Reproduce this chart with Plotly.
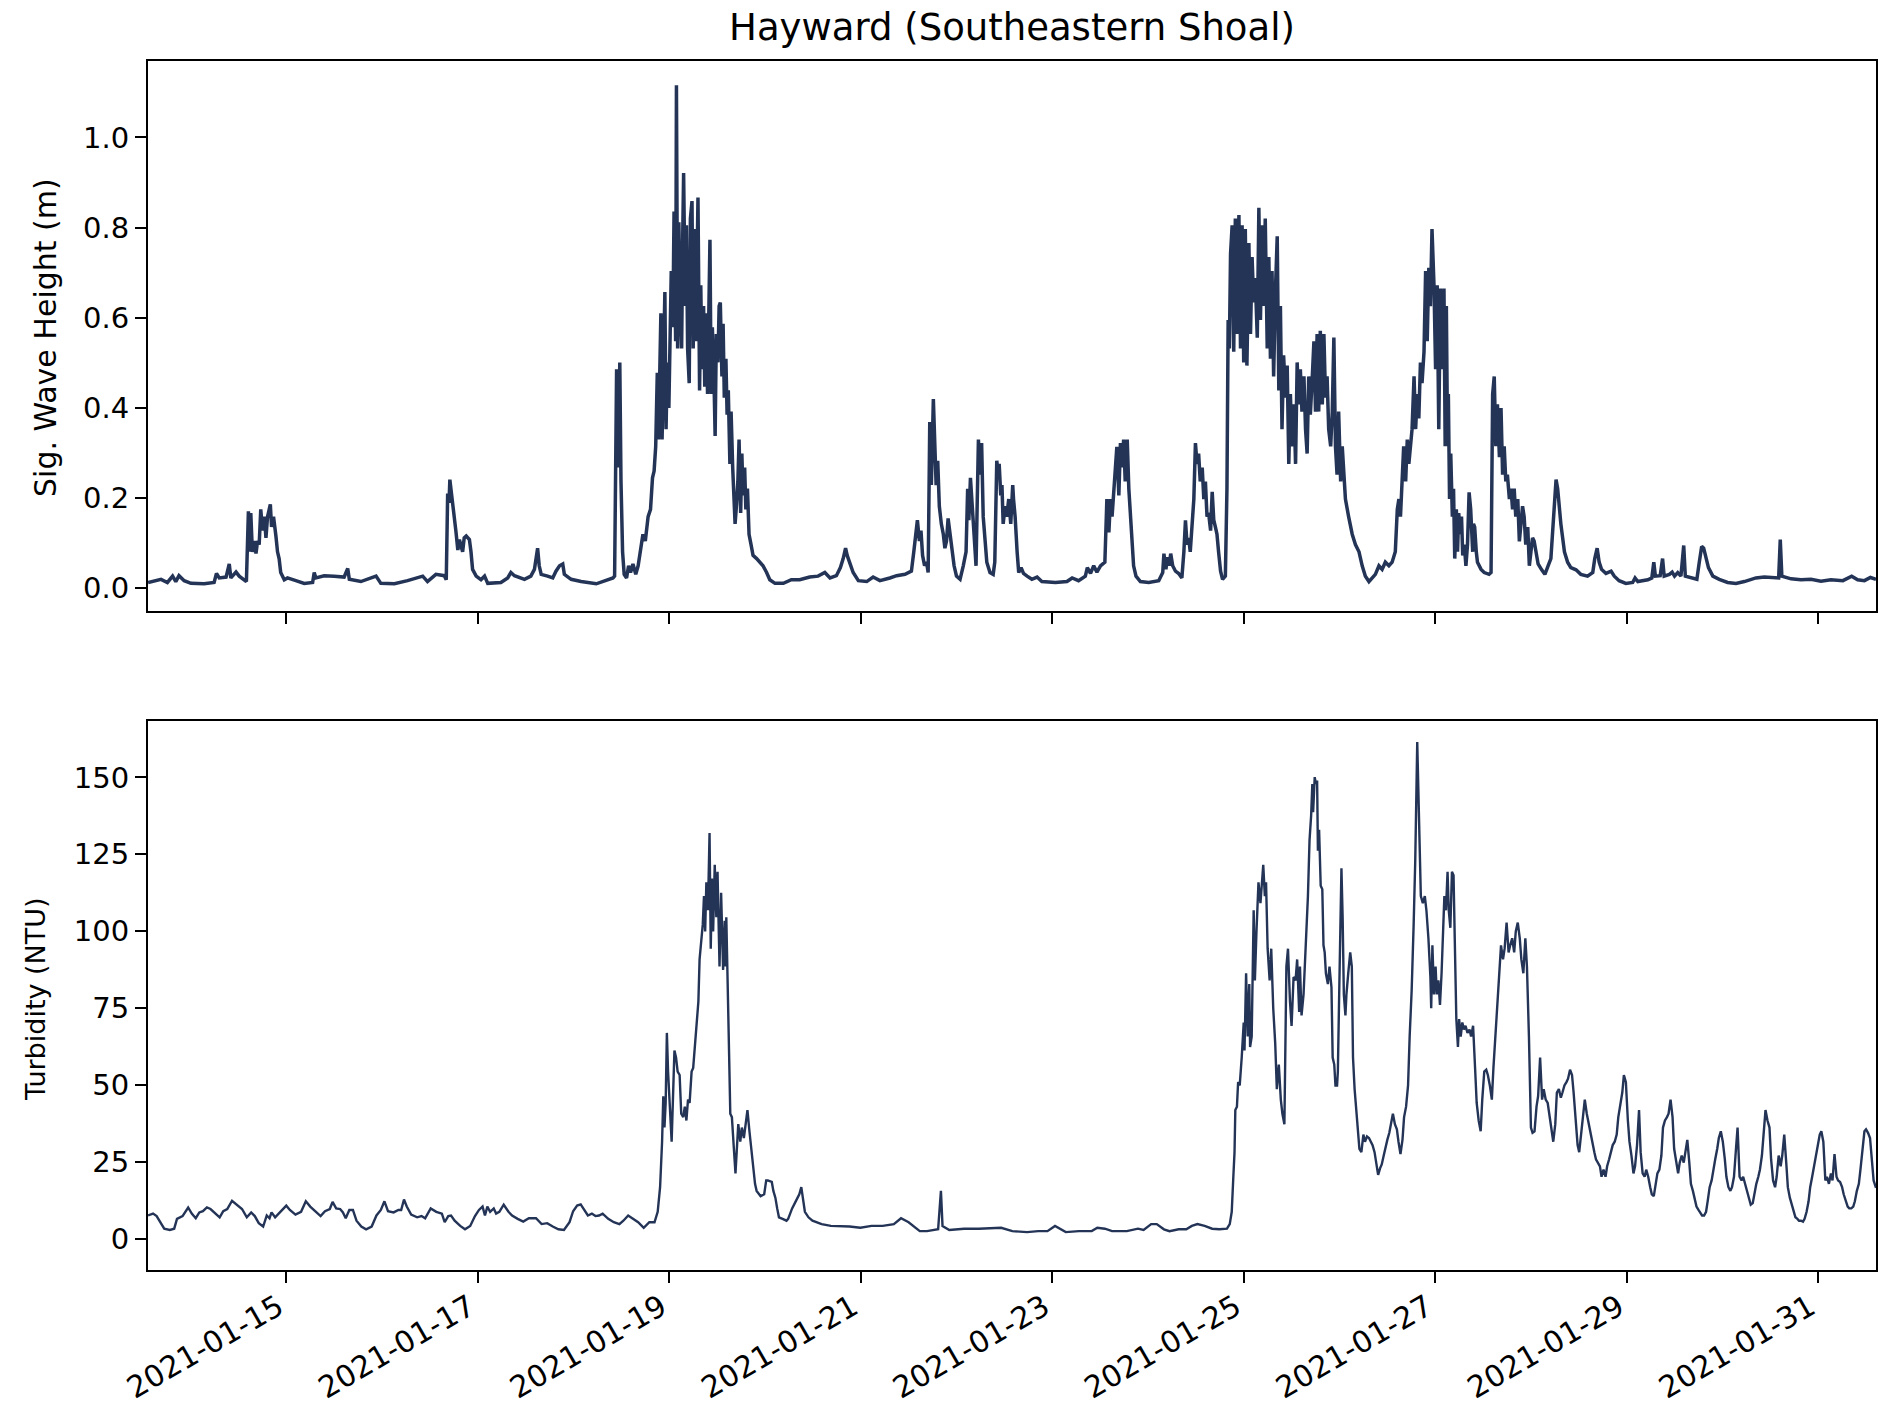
import pandas as pd
import plotly.graph_objects as go

# ---------------- data (hours since 2021-01-13 00:00) ----------------
wave_hours = [
    13.34, 16.6, 18.2, 19.5, 20.3, 21.1, 22.4, 24.1, 27.4, 29.9, 30.5, 31.2, 32.9, 33.7, 34.1, 35.4, 36.2, 37.5, 38.0,
    38.5, 38.8, 39.1, 39.5, 40.0, 40.4, 40.8, 41.2, 41.6, 42.05, 42.5, 42.9, 43.3, 44.0, 44.3, 44.8, 45.4, 45.8, 46.2,
    46.6, 47.5, 48.3, 50.4, 52.5, 54.6, 55.0, 55.4, 57.5, 60.0, 62.5, 63.4, 63.8, 66.7, 70.5, 71.7, 75.1, 78.4, 82.2,
    83.4, 85.5, 87.6, 88.1, 88.45, 88.8, 89.0, 89.5, 90.0, 90.5, 91.0, 91.4, 92.2, 92.6, 93.1, 93.9, 94.3, 94.7, 95.6,
    96.8, 97.7, 98.5, 101.8, 103.5, 104.3, 105.2, 107.7, 109.3, 110.2, 110.6, 111.0, 111.4, 111.9, 113.5, 114.8, 115.6,
    116.5, 117.3, 117.7, 119.4, 121.9,
    125.7, 129.9, 130.3, 130.8, 131.2, 131.6, 131.9, 132.3, 132.7, 133.3, 133.8, 134.3, 134.9, 135.6, 136.2, 136.8,
    137.4, 138.0, 138.7, 139.3, 139.8, 140.2, 140.6, 141.0, 141.3, 141.6, 141.9, 142.2, 142.5, 142.9, 143.2, 143.5,
    143.9, 144.2, 144.5, 144.9, 145.2, 145.6, 145.8, 146.1, 146.4, 146.7, 147.1, 147.4, 147.6, 148.0, 148.3, 148.6,
    149.0, 149.3, 149.7, 150.0, 150.3, 150.7, 151.0, 151.2, 151.6, 151.9, 152.2, 152.6, 152.9, 153.2, 153.6, 153.9,
    154.2, 154.5, 154.8, 155.2, 155.5, 155.8, 156.2, 156.5, 156.8, 157.2, 157.5, 157.8, 158.2, 158.5, 158.8, 159.2,
    159.5, 159.9, 160.2, 160.5, 160.9, 161.2, 161.5, 161.9, 162.2, 162.5, 162.9, 163.2, 163.6, 164.0, 164.5, 165.0,
    165.9, 166.7, 167.5, 168.4, 169.2, 170.5, 172.6, 174.6, 176.7, 179.2, 181.3, 183.0, 184.3, 185.9, 186.9, 187.6,
    188.2, 188.6, 189.3, 190.1, 191.4, 193.5, 195.1, 196.8, 199.3, 201.0, 203.1, 204.7, 205.3, 205.7, 206.2, 206.7,
    207.1, 207.5, 208.0, 208.5, 208.9, 209.3, 209.7, 210.2, 210.5, 210.9, 211.3, 211.7, 212.2, 212.7, 213.1, 213.5,
    213.9, 214.4, 214.9, 215.4, 216.0, 216.9, 217.7, 218.4, 218.8, 219.1, 219.5, 220.0, 220.4, 220.9, 221.2, 221.5,
    221.9, 222.3, 222.7, 223.1, 223.6, 224.4, 225.2, 225.6, 226.1, 226.4, 226.7, 227.1, 227.4, 227.7, 228.2, 228.6,
    229.1, 229.6, 230.1,
    230.3, 230.7, 231.2, 231.6, 232.2, 232.8, 233.7, 234.9, 236.2, 237.4, 240.8, 243.7, 245.0, 246.6, 248.3, 248.8,
    249.6, 250.4, 251.2, 252.1, 253.2, 253.7, 254.2, 254.6, 255.0, 255.4, 255.8, 256.2, 256.7, 257.1, 257.5, 257.9,
    258.3, 258.8, 259.2, 259.6, 260.0, 260.4, 261.0, 262.1, 264.2, 266.7, 267.7, 268.0, 268.5, 268.9, 269.3, 269.7,
    270.2, 270.9, 271.7, 272.5, 273.0, 273.4, 273.8, 274.2, 274.6, 275.1, 275.5, 275.9, 276.3, 276.7, 277.1, 277.6,
    278.0, 278.4, 278.8, 279.2, 279.7, 280.1, 280.5, 280.9, 281.3, 281.7, 282.2, 282.7, 283.4, 283.8, 284.1, 284.4,
    284.7, 285.1, 285.5, 285.9, 286.3, 286.8, 287.2, 287.6, 288.0, 288.4, 288.8, 289.3, 289.7, 290.1, 290.5, 290.9,
    291.4, 291.8, 292.2, 292.6, 293.0, 293.4, 293.9, 294.3, 294.7, 295.1, 295.5, 296.0, 296.4, 296.8, 297.2, 297.6,
    298.0, 298.5, 298.9, 299.3, 299.7, 300.1, 300.6, 301.0, 301.4, 301.8, 302.2, 302.6, 303.1, 303.5, 303.9, 304.3,
    304.7, 305.2, 305.6, 306.0, 306.4, 306.8, 307.2, 307.7, 308.1, 308.5, 308.9, 309.3, 309.8, 310.2, 310.6, 311.0,
    311.4, 311.8, 312.3, 312.7, 313.1, 313.5, 314.3, 315.2, 316.0, 316.9, 317.7, 318.5, 319.4, 320.2, 321.0, 321.9,
    322.7, 323.5, 324.4, 325.2, 326.0, 326.5, 326.9, 327.3, 327.7, 328.1, 328.6, 329.0, 329.4, 329.8, 330.2, 330.7,
    331.1, 331.5, 331.9, 332.3, 332.7, 333.2, 333.6, 334.0, 334.4, 334.8, 335.2, 335.7, 336.1, 336.5, 336.9, 337.3,
    337.8, 338.2,
    338.5, 338.8, 339.1, 339.3, 339.6, 339.9, 340.3, 340.6, 340.9, 341.3, 341.6, 341.9, 342.3, 342.6, 342.9, 343.3,
    343.7, 344.1, 344.5, 344.9, 345.4, 345.6, 345.9, 346.3, 346.6, 347.5, 348.3, 349.5, 350.0, 350.4, 350.8, 351.2,
    351.6, 352.1, 352.5, 352.9, 353.3, 353.7, 354.1, 354.6, 355.0, 355.4, 355.8, 356.2, 356.7, 357.1, 357.5, 357.9,
    358.3, 358.7, 359.2, 359.6, 360.0, 360.4, 360.8, 361.3, 361.8, 362.7, 363.5, 364.3, 365.0, 365.4, 365.8, 366.3,
    366.7, 367.1, 367.5, 368.4, 369.2, 370.0, 371.3, 372.5, 374.2, 375.5, 376.0, 376.6, 377.1, 377.7, 378.8, 380.1,
    380.9, 382.1, 383.8, 385.5, 386.1, 386.8, 389.3, 390.3, 390.8, 391.2, 392.4, 393.0, 393.4, 394.7, 395.4, 396.0,
    396.8, 397.6, 398.3, 398.7, 400.1, 401.6, 402.2, 402.8, 403.3, 403.9, 404.5, 405.6, 407.2, 409.3, 411.4, 413.5,
    416.4, 418.5, 420.6, 422.1, 422.5, 422.9, 425.2, 427.7, 430.2, 432.7, 435.2, 438.2, 440.4, 441.9, 443.6, 445.1,
    446.5,
]
wave_height_m = [
    0.013, 0.020, 0.013, 0.027, 0.015, 0.028, 0.017, 0.011, 0.010, 0.013, 0.033, 0.023, 0.025, 0.054, 0.023, 0.036, 0.027, 0.019, 0.015,
    0.171, 0.081, 0.167, 0.081, 0.105, 0.077, 0.105, 0.097, 0.175, 0.128, 0.159, 0.112, 0.159, 0.186, 0.136, 0.159, 0.116, 0.081, 0.066,
    0.035, 0.019, 0.023, 0.017, 0.011, 0.013, 0.035, 0.023, 0.028, 0.027, 0.025, 0.044, 0.020, 0.015, 0.027, 0.011, 0.010, 0.017, 0.027,
    0.015, 0.031, 0.028, 0.019, 0.210, 0.190, 0.241, 0.206, 0.159, 0.128, 0.085, 0.108, 0.081, 0.112, 0.116, 0.108, 0.081, 0.042, 0.027,
    0.019, 0.027, 0.011, 0.013, 0.023, 0.035, 0.028, 0.020, 0.027, 0.042, 0.066, 0.089, 0.050, 0.031, 0.027, 0.023, 0.038,
    0.050, 0.054, 0.031, 0.020, 0.015,
    0.010, 0.023, 0.027, 0.486, 0.268, 0.501, 0.237, 0.081, 0.031, 0.023, 0.050, 0.035, 0.054, 0.031, 0.050, 0.081,
    0.120, 0.105, 0.159, 0.175, 0.245, 0.260, 0.315, 0.478, 0.330, 0.470, 0.610, 0.330, 0.470, 0.657, 0.353, 0.501,
    0.400, 0.548, 0.704, 0.579, 0.836, 0.548, 1.116, 0.532, 0.812, 0.665, 0.532, 0.797, 0.921, 0.626, 0.805, 0.532,
    0.455, 0.820, 0.859, 0.532, 0.797, 0.548, 0.844, 0.867, 0.439, 0.672, 0.486, 0.626, 0.447, 0.610, 0.431, 0.626,
    0.773, 0.431, 0.579, 0.470, 0.338, 0.564, 0.501, 0.626, 0.634, 0.470, 0.587, 0.423, 0.509, 0.385, 0.439, 0.276,
    0.392, 0.268, 0.206, 0.143, 0.190, 0.237, 0.330, 0.167, 0.299, 0.206, 0.268, 0.175, 0.221, 0.120, 0.097, 0.073,
    0.066, 0.058, 0.050, 0.035, 0.019, 0.011, 0.011, 0.019, 0.019, 0.025, 0.027, 0.035, 0.023, 0.028, 0.046, 0.066,
    0.089, 0.073, 0.054, 0.035, 0.017, 0.015, 0.025, 0.017, 0.023, 0.028, 0.031, 0.038, 0.081, 0.120, 0.151, 0.105,
    0.128, 0.073, 0.050, 0.058, 0.035, 0.369, 0.229, 0.420, 0.353, 0.229, 0.283, 0.182, 0.143, 0.120, 0.089, 0.105,
    0.155, 0.120, 0.081, 0.050, 0.027, 0.020, 0.050, 0.081, 0.221, 0.151, 0.245, 0.159, 0.120, 0.050, 0.198, 0.330,
    0.252, 0.322, 0.159, 0.112, 0.058, 0.035, 0.031, 0.058, 0.283, 0.260, 0.276, 0.206, 0.229, 0.143, 0.182, 0.159,
    0.198, 0.143, 0.229,
    0.198, 0.159, 0.081, 0.035, 0.046, 0.033, 0.027, 0.020, 0.025, 0.015, 0.013, 0.015, 0.023, 0.017, 0.027, 0.046,
    0.033, 0.050, 0.036, 0.050, 0.058, 0.198, 0.124, 0.198, 0.159, 0.221, 0.268, 0.314, 0.206, 0.322, 0.268, 0.330,
    0.237, 0.330, 0.221, 0.159, 0.097, 0.050, 0.027, 0.015, 0.013, 0.017, 0.035, 0.077, 0.042, 0.069, 0.050, 0.077,
    0.050, 0.038, 0.033, 0.023, 0.081, 0.151, 0.097, 0.112, 0.081, 0.136, 0.198, 0.322, 0.276, 0.299, 0.237, 0.268,
    0.198, 0.237, 0.159, 0.167, 0.128, 0.214, 0.151, 0.136, 0.120, 0.081, 0.038, 0.020, 0.027, 0.221, 0.595, 0.532,
    0.742, 0.805, 0.525, 0.820, 0.564, 0.828, 0.532, 0.805, 0.501, 0.797, 0.494, 0.766, 0.564, 0.735, 0.634, 0.688,
    0.556, 0.844, 0.595, 0.805, 0.626, 0.820, 0.532, 0.735, 0.509, 0.704, 0.470, 0.672, 0.781, 0.439, 0.626, 0.353,
    0.517, 0.423, 0.494, 0.276, 0.431, 0.315, 0.408, 0.276, 0.501, 0.408, 0.486, 0.392, 0.470, 0.353, 0.299, 0.470,
    0.385, 0.470, 0.548, 0.392, 0.564, 0.392, 0.571, 0.408, 0.564, 0.423, 0.470, 0.353, 0.315, 0.392, 0.556, 0.315,
    0.252, 0.392, 0.237, 0.315, 0.237, 0.198, 0.159, 0.120, 0.097, 0.081, 0.050, 0.027, 0.015, 0.023, 0.031, 0.050,
    0.042, 0.058, 0.050, 0.058, 0.081, 0.175, 0.198, 0.159, 0.237, 0.315, 0.237, 0.330, 0.276, 0.315, 0.353, 0.470,
    0.353, 0.431, 0.377, 0.501, 0.455, 0.525, 0.704, 0.548, 0.711, 0.626, 0.797, 0.672, 0.486, 0.672, 0.353, 0.665,
    0.486, 0.665,
    0.315, 0.626, 0.315, 0.431, 0.198, 0.299, 0.159, 0.221, 0.066, 0.175, 0.081, 0.167, 0.120, 0.159, 0.073, 0.097,
    0.050, 0.097, 0.213, 0.175, 0.081, 0.143, 0.136, 0.081, 0.058, 0.042, 0.035, 0.031, 0.035, 0.431, 0.470, 0.315,
    0.408, 0.291, 0.400, 0.252, 0.315, 0.237, 0.252, 0.198, 0.221, 0.175, 0.221, 0.159, 0.198, 0.104, 0.143, 0.182,
    0.159, 0.097, 0.136, 0.050, 0.081, 0.112, 0.105, 0.081, 0.054, 0.041, 0.031, 0.050, 0.066, 0.120, 0.175, 0.241,
    0.221, 0.182, 0.143, 0.081, 0.058, 0.046, 0.041, 0.031, 0.027, 0.035, 0.066, 0.089, 0.058, 0.042, 0.033, 0.038,
    0.027, 0.017, 0.011, 0.013, 0.023, 0.015, 0.019, 0.023, 0.058, 0.027, 0.028, 0.066, 0.027, 0.031, 0.036, 0.027,
    0.035, 0.027, 0.095, 0.027, 0.023, 0.020, 0.058, 0.093, 0.089, 0.066, 0.046, 0.027, 0.020, 0.013, 0.011, 0.015,
    0.023, 0.025, 0.023, 0.023, 0.108, 0.027, 0.021, 0.019, 0.020, 0.016, 0.019, 0.017, 0.027, 0.019, 0.017, 0.024,
    0.020,
]

turb_hours = [
    13.34, 14.6, 15.5, 16.5, 17.4, 18.8, 19.9, 20.6, 22.0, 23.4, 24.3, 25.3, 26.2, 27.1, 28.1, 29.0, 30.4, 31.3, 32.2,
    33.2, 34.4, 35.5, 36.9, 38.1, 39.2, 40.1, 41.1, 42.2, 43.1, 43.8, 44.3, 45.2, 46.6, 48.0, 48.9, 50.3, 51.7, 52.9,
    54.0, 55.4, 56.6, 57.7, 58.9, 59.6, 60.5, 61.5, 62.2, 62.9, 63.8, 64.7, 65.6, 66.8, 68.0, 69.4, 70.6, 71.7, 72.6,
    73.5, 74.9, 76.1, 76.8, 77.5, 78.2, 79.3, 80.8, 81.9, 82.8, 84.2, 85.6, 87.0, 87.7, 88.6, 89.3, 90.2, 91.6, 92.8,
    94.1, 95.3, 96.3, 97.2, 97.8, 98.4, 99.1, 100.0, 100.6, 101.4, 102.5, 103.7, 104.6, 106.0, 107.4, 108.8, 110.6,
    112.0, 113.4, 114.8, 116.2, 117.6, 119.0, 119.9, 120.9, 121.8, 122.7, 123.6, 124.6, 125.5, 126.4, 127.3, 128.7,
    130.1, 131.5, 132.5, 133.7, 134.8, 136.2, 137.6, 139.0, 140.3, 141.1, 141.7, 142.2, 142.5, 142.8, 143.1, 143.4,
    143.7, 144.1, 144.3, 144.6, 145.0, 145.3, 145.7, 146.1, 146.6, 147.0, 147.5, 147.9, 148.3, 148.7, 149.1, 149.6,
    150.0, 150.5, 150.9, 151.3, 151.6, 151.9, 152.4, 152.7, 153.0, 153.3, 153.7, 154.1, 154.4, 154.7, 155.0, 155.4,
    155.8, 156.1, 156.6, 157.0, 157.5, 157.9, 158.1, 158.3, 158.5, 159.0, 159.3, 159.7, 160.2, 160.6, 160.9, 161.3,
    161.8, 162.2, 162.7, 163.2, 163.6, 164.1, 164.6, 165.0, 165.5, 165.9, 166.9, 167.8, 168.3, 168.7, 169.7, 170.1,
    170.6, 171.05, 171.5, 172.4, 173.4, 173.8, 174.8, 175.7, 176.6, 177.1, 177.55, 178.0, 178.9, 179.9, 182.2, 184.5,
    189.2, 191.9, 194.7, 197.5, 200.3, 202.1, 204.0, 206.8, 208.6, 211.4, 212.1, 212.5, 214.2, 217.9, 221.6, 225.3,
    227.2, 230.0, 233.7, 236.5, 238.8, 240.7, 241.6, 243.4, 246.7, 249.9, 251.3, 253.2, 255.0, 258.7, 261.5, 262.9,
    264.8, 266.2, 268.0, 269.4, 271.7, 273.6, 275.0, 276.4, 278.2, 280.1, 281.9, 283.8, 284.5, 285.0, 285.4, 285.7,
    285.9, 286.3, 286.6, 287.0, 287.5, 288.0, 288.2, 288.6, 289.0, 289.4, 289.6, 290.0, 290.5, 290.8, 291.2, 291.7,
    292.2, 292.6, 292.9, 293.3, 293.6, 294.0, 294.5, 294.9, 295.4, 295.9, 296.3, 296.8, 297.3, 297.7, 298.2, 298.7,
    299.1, 299.6, 300.0, 300.5, 301.0, 301.4, 301.9, 302.1, 302.5, 303.0, 303.5, 303.8, 304.1, 304.5, 304.9, 305.2,
    305.4, 305.8, 306.1, 306.4, 306.6, 306.9, 307.3, 307.7, 308.0, 308.3, 308.6, 309.1, 309.5, 310.0, 310.3, 310.7,
    311.0, 311.4, 311.6, 311.9, 312.2, 312.5, 312.8, 313.1, 313.5, 313.75, 314.2, 314.7, 315.1, 315.4, 315.8, 316.3,
    316.6, 317.0, 317.5, 318.0, 318.4, 318.9, 319.4, 319.8, 320.3, 320.8, 321.2, 321.7, 322.2, 322.6, 323.1, 323.6,
    324.0, 324.5, 325.0, 325.4, 325.9, 326.4, 326.8, 327.3, 327.8, 328.2, 328.7, 329.2, 329.6, 330.1, 330.6, 331.0,
    331.5, 332.0, 332.4, 332.9, 333.4, 333.8, 334.3, 334.8, 335.0, 335.3, 335.7, 336.1, 336.4, 336.8, 337.2, 337.6,
    337.9, 338.3, 338.7, 339.1, 339.4, 339.8, 340.2, 340.6, 340.9, 341.3, 341.7, 342.0, 342.4, 342.8, 343.2, 343.6,
    344.1, 344.6, 345.0, 345.5, 346.0, 346.4, 346.9, 347.4, 347.8, 348.3, 348.8, 349.2, 349.7, 350.2, 350.6, 351.1,
    351.6, 352.0, 352.5, 353.0, 353.4, 353.9, 354.4, 354.8, 355.3, 355.8, 356.2, 356.7, 357.2, 357.6, 358.1, 358.6,
    359.0, 359.5, 360.0, 360.4, 360.9, 361.4, 361.8, 362.3, 362.8, 363.2, 363.7, 364.2, 364.7, 365.1, 365.6, 366.1,
    366.5, 367.0, 367.5, 367.9, 368.4, 368.9, 369.3, 369.8, 370.3, 370.7, 371.2, 371.7, 372.1, 372.6, 373.1, 373.5,
    374.0, 374.5, 374.9, 375.4, 375.9, 376.3, 376.8, 377.3, 377.7, 378.2, 378.7, 379.1, 379.6, 380.1, 380.5, 381.0,
    381.5, 381.9, 382.4, 382.9, 383.3, 383.8, 384.3, 384.7, 385.2, 385.7, 386.1, 386.6, 387.1, 387.5, 388.0, 388.5,
    388.9, 389.4, 389.9, 390.3, 390.8, 391.3, 391.7, 392.2, 392.7, 393.1, 393.6, 394.1, 394.5, 395.0, 395.5, 395.9,
    396.4, 396.9, 397.3, 397.8, 398.3, 398.7, 399.2, 399.7, 400.1, 400.6, 401.1, 401.5, 402.0, 402.5, 402.9, 403.4,
    403.9, 404.3, 404.8, 405.3, 405.7, 406.2, 406.7, 407.1, 407.6, 408.1, 408.6, 409.0, 409.5, 410.0, 410.4, 410.9,
    411.4, 411.8, 412.3, 412.8, 413.2, 413.7, 414.2, 414.6, 415.1, 415.6, 416.0, 416.5, 417.0, 417.4, 417.9, 418.4,
    418.8, 419.3, 419.8, 420.2, 420.7, 421.2, 421.6, 422.1, 422.6, 423.0, 423.5, 424.0, 424.4, 424.9, 425.4, 425.8,
    426.3, 426.8, 427.2, 427.7, 428.2, 428.6, 429.1, 429.6, 430.0, 430.5, 431.0, 431.4, 431.9, 432.4, 432.8, 433.3,
    433.8, 434.2, 434.7, 435.2, 435.6, 436.1, 436.6, 437.0, 437.5, 438.0, 438.4, 438.9, 439.4, 439.8, 440.3, 440.8,
    441.2, 441.7, 442.2, 442.6, 443.1, 443.6, 444.0, 444.5, 445.0, 445.4, 445.9, 446.5,
]
turbidity_ntu = [
    7.5, 8.1, 7.3, 5.3, 3.2, 2.8, 3.2, 6.4, 7.3, 10.1, 8.1, 6.6, 8.5, 8.9, 10.1, 9.6, 8.1, 6.9, 8.9,
    9.6, 12.3, 11.0, 9.6, 6.9, 8.5, 7.3, 5.0, 3.9, 7.5, 6.6, 8.5, 6.9, 8.7, 10.7, 9.3, 7.8, 8.7, 12.1,
    10.4, 8.7, 7.3, 8.9, 9.6, 11.9, 9.8, 9.6, 8.5, 6.6, 9.3, 9.3, 5.8, 3.9, 3.0, 3.9, 7.5, 9.3, 12.1,
    8.9, 8.5, 9.3, 9.3, 12.7, 10.4, 7.8, 6.9, 7.3, 6.6, 9.8, 8.7, 8.1, 5.3, 7.3, 7.5, 5.8, 4.1, 3.0,
    4.1, 7.3, 9.3, 10.4, 7.5, 10.4, 8.7, 9.8, 8.1, 8.7, 11.0, 8.7, 7.5, 6.4, 5.5, 6.6, 6.6,
    4.7, 5.0, 3.9, 3.0, 2.8, 5.3, 8.9, 10.7, 11.1, 9.3, 7.5, 8.1, 7.3, 7.5, 8.1, 6.4,
    5.3, 4.7, 5.8, 7.5, 6.4, 5.3, 3.5, 5.3, 5.3, 8.7, 16.7, 31.5, 46.3, 36.1, 44.1, 66.9,
    54.3, 44.1, 37.2, 31.5, 48.6, 61.2, 58.9, 54.3, 53.2, 40.6, 39.5, 42.9, 38.4, 45.2, 44.1, 54.3,
    55.5, 63.5, 69.2, 77.1, 90.8, 94.3, 102.2, 111.4, 99.9, 115.9, 106.8, 131.9, 94.3, 117.1, 99.9, 121.6,
    104.5, 119.3, 88.5, 112.5, 87.4, 103.4, 88.5, 104.5, 88.5, 60.0, 40.6, 39.5, 29.2, 21.2, 28.1, 37.2,
    31.5, 36.1, 32.7, 37.2, 41.8, 34.9, 29.2, 24.7, 17.8, 15.5, 13.8, 14.4, 18.9, 18.9, 18.4, 15.5,
    13.3, 9.8, 6.9, 6.4, 5.8, 6.4, 9.8, 12.1, 14.4, 16.7, 12.1, 8.7, 6.9, 5.8, 4.7, 4.1,
    3.9, 3.5, 4.1, 4.1, 4.7, 6.6, 5.3, 2.4, 2.4, 3.0, 15.5, 4.1, 2.8, 3.2, 3.2, 3.5,
    3.5, 2.4, 2.1, 2.4, 2.4, 4.1, 3.5, 2.1, 2.4, 2.4, 3.5, 3.2, 2.4, 2.4, 3.2, 2.8,
    4.7, 4.7, 3.0, 2.4, 3.0, 3.0, 4.1, 4.7, 4.1, 3.2, 3.0, 3.2, 4.7, 8.7, 20.1, 28.1,
    41.8, 42.9, 50.9, 49.8, 58.9, 70.3, 61.2, 86.3, 65.7, 82.8, 62.3, 65.7, 106.8, 84.0, 99.9, 115.9,
    109.1, 118.2, 121.6, 111.4, 115.9, 94.3, 84.0, 94.3, 74.9, 63.5, 48.6, 56.6, 45.2, 40.6, 37.2, 88.5,
    94.3, 77.1, 69.2, 85.1, 84.0, 90.8, 73.7, 88.5, 72.6, 79.4, 93.1, 102.2, 111.4, 129.6, 137.6, 147.9,
    138.7, 150.1, 147.9, 149.0, 126.2, 133.0, 114.8, 113.6, 95.4, 93.1, 86.3, 82.8, 88.5, 81.7, 58.9, 56.6,
    49.8, 49.8, 54.3, 77.1, 102.2, 120.5, 104.5, 79.4, 72.6, 79.4, 86.3, 93.1, 88.5, 58.9, 48.6, 39.5,
    34.9, 29.2, 28.1, 33.8, 31.5, 33.2, 32.7, 31.5, 30.4, 28.1, 24.7, 20.7, 22.9, 24.1, 27.0, 30.4,
    32.1, 34.4, 38.4, 40.6, 37.2, 35.5, 31.5, 27.5, 32.1, 39.5, 42.9, 49.8, 65.7, 80.6, 102.2, 122.8,
    161.5, 131.9, 111.4, 109.1, 111.4, 106.8, 97.7, 85.1, 74.9, 95.4, 79.4, 88.5, 79.4, 84.0, 76.0, 86.3,
    99.9, 111.4, 106.8, 119.3, 106.8, 101.1, 119.3, 118.2, 97.7, 71.4, 62.3, 71.4, 65.7, 70.3, 68.0, 69.2,
    66.9, 68.0, 65.7, 69.2, 55.5, 44.1, 38.4, 34.9, 45.2, 54.3, 54.9, 53.2, 49.8, 45.2, 55.5, 65.7,
    78.3, 86.3, 95.4, 90.8, 94.3, 102.8, 93.1, 95.4, 97.7, 93.1, 99.9, 102.8, 97.7, 90.8, 86.3, 97.7,
    88.5, 65.7, 36.1, 34.4, 34.9, 42.9, 46.3, 58.9, 45.2, 48.6, 45.2, 44.1, 39.5, 37.2, 31.5, 37.2,
    47.5, 48.6, 45.8, 47.5, 49.8, 50.9, 52.0, 54.9, 53.2, 47.5, 37.2, 30.4, 28.1, 33.8, 40.6, 45.2,
    40.6, 37.2, 33.8, 30.4, 28.1, 25.8, 24.7, 23.5, 20.1, 22.4, 20.1, 23.5, 25.8, 28.1, 30.4, 31.5,
    33.8, 39.5, 44.1, 47.5, 53.2, 50.9, 38.4, 31.5, 27.0, 21.2, 23.5, 30.4, 41.8, 28.1, 21.2, 20.1,
    22.4, 20.1, 16.7, 14.4, 13.8, 17.8, 21.2, 22.4, 27.0, 36.1, 38.4, 39.5, 40.6, 45.2, 39.5, 29.2,
    25.8, 21.2, 24.7, 27.0, 24.7, 28.1, 32.1, 24.7, 17.8, 15.5, 12.1, 10.4, 9.3, 8.1, 7.5, 7.5,
    8.7, 12.1, 16.7, 18.9, 22.4, 25.8, 29.2, 32.7, 34.9, 31.5, 25.8, 20.1, 16.7, 15.5, 16.7, 20.1,
    29.2, 36.1, 20.1, 18.9, 20.1, 17.8, 15.5, 13.3, 11.0, 11.5, 14.4, 17.8, 20.1, 22.4, 27.0, 34.9,
    41.8, 38.4, 36.1, 25.8, 18.9, 16.7, 20.1, 27.0, 23.5, 27.0, 33.8, 24.7, 16.7, 13.3, 11.0, 8.7,
    6.9, 6.4, 5.8, 5.8, 5.5, 6.4, 8.7, 12.1, 16.7, 20.1, 23.5, 27.0, 30.4, 33.8, 34.9, 31.5,
    18.9, 20.1, 17.8, 21.2, 18.9, 27.5, 20.1, 18.9, 18.4, 16.7, 14.4, 12.1, 10.4, 9.8, 9.8, 10.4,
    12.1, 15.5, 17.8, 22.4, 29.2, 34.9, 35.5, 34.4, 32.7, 27.0, 18.9, 16.5,
]

start_time = "2021-01-13 00:00"
x_range = ["2021-01-13 13:20", "2021-01-31 14:30"]
date_ticks = ["2021-01-15", "2021-01-17", "2021-01-19", "2021-01-21", "2021-01-23",
              "2021-01-25", "2021-01-27", "2021-01-29", "2021-01-31"]
wave_ticks = [0.0, 0.2, 0.4, 0.6, 0.8, 1.0]
turb_ticks = [0, 25, 50, 75, 100, 125, 150]

title_text = "Hayward (Southeastern Shoal)"
wave_label = "Sig. Wave Height (m)"
turb_label = "Turbidity (NTU)"

# ---------------- figure ----------------
base = pd.Timestamp(start_time)
wave_x = base + pd.to_timedelta(wave_hours, unit="h")
turb_x = base + pd.to_timedelta(turb_hours, unit="h")

LINE = "#243457"
FONT = "DejaVu Sans"

fig = go.Figure()
fig.add_trace(go.Scatter(x=wave_x, y=wave_height_m, mode="lines",
                         line=dict(color=LINE, width=3.5), xaxis="x", yaxis="y",
                         showlegend=False))
fig.add_trace(go.Scatter(x=turb_x, y=turbidity_ntu, mode="lines",
                         line=dict(color=LINE, width=2.4), xaxis="x2", yaxis="y2",
                         showlegend=False))

axis_common = dict(showline=True, linecolor="black", linewidth=2, mirror=True,
                   ticks="outside", ticklen=11, tickwidth=2, tickcolor="black",
                   showgrid=False, zeroline=False, automargin=False,
                   tickfont=dict(family=FONT, size=29, color="black"))

fig.update_layout(
    width=1894, height=1407,
    margin=dict(l=148, r=18, t=61, b=137, autoexpand=False),
    paper_bgcolor="white", plot_bgcolor="white",
    font=dict(family=FONT, color="black"),
    title=dict(text=title_text, x=0.5, xref="paper", xanchor="center",
               y=1 - 27 / 1407, yanchor="middle",
               font=dict(family=FONT, size=37, color="black")),
    xaxis=dict(domain=[0, 1], anchor="y", range=x_range, type="date",
               tickvals=date_ticks, ticktext=date_ticks, showticklabels=False,
               **axis_common),
    yaxis=dict(domain=[0.5453, 1], anchor="x", range=[-0.0497, 1.1696],
               tickvals=wave_ticks, ticktext=[f"{v:.1f}" for v in wave_ticks],
               **axis_common),
    xaxis2=dict(domain=[0, 1], anchor="y2", range=x_range, type="date",
                tickvals=date_ticks, ticktext=date_ticks, tickangle=-30,
                ticklabelstandoff=-5, ticklabelshift=-8,
                **{**axis_common, "tickfont": dict(family=FONT, size=30, color="black")}),
    yaxis2=dict(domain=[0, 0.4539], anchor="x2", range=[-10.24, 168.3],
                tickvals=turb_ticks, ticktext=[str(v) for v in turb_ticks],
                **axis_common),
    annotations=[
        dict(text=wave_label, xref="paper", yref="paper",
             x=(45 - 148) / 1728, y=(1270 - 338) / 1209,
             xanchor="center", yanchor="middle", textangle=-90, showarrow=False,
             font=dict(family=FONT, size=30, color="black")),
        dict(text=turb_label, xref="paper", yref="paper",
             x=(35 - 148) / 1728, y=(1270 - 999) / 1209,
             xanchor="center", yanchor="middle", textangle=-90, showarrow=False,
             font=dict(family=FONT, size=27, color="black")),
    ],
)

fig.write_html("out.html")
